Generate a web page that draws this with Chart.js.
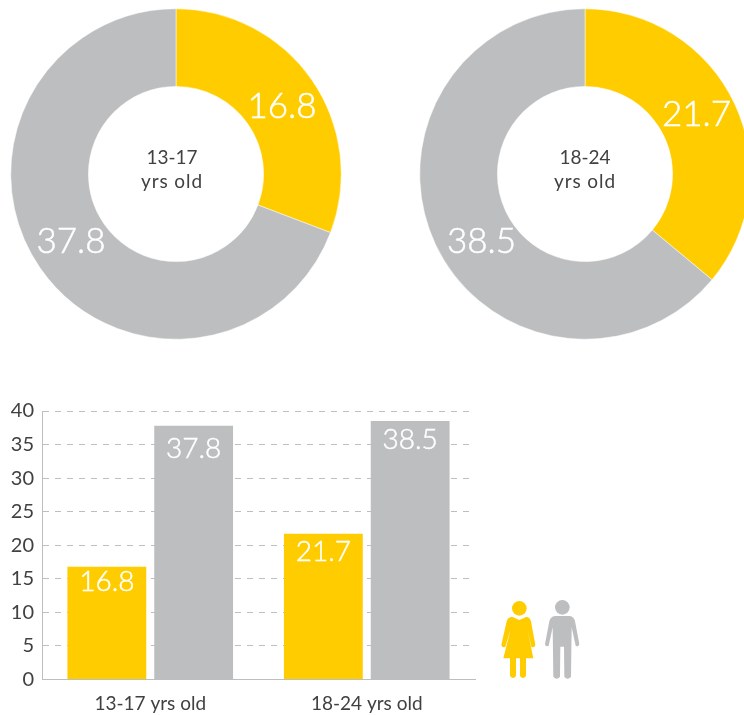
<!DOCTYPE html>
<html>
<head>
<meta charset="utf-8">
<title>Age groups</title>
<script src="https://cdn.jsdelivr.net/npm/chart.js@4"></script>
<style>
    html, body { margin: 0; padding: 0; background: #fff; }
    body { position: relative; width: 744px; height: 715px; overflow: hidden; font-family: Lato, sans-serif; }
    .box { position: absolute; }
    .donut { width: 340px; height: 340px; top: 4px; }
    .centre { position: absolute; top: 145px; width: 120px; text-align: center; color: #414042; font-size: 19px; line-height: 24px; }
    .centre span { letter-spacing: 0.9px; }
    #bars { left: 0; top: 393px; width: 490px; height: 322px; }
    #people { position: absolute; left: 490px; top: 590px; }
</style>
</head>
<body>
<div class="box donut" style="left:6px"><canvas id="donutA"></canvas></div>
<div class="box donut" style="left:415px"><canvas id="donutB"></canvas></div>
<div class="centre" style="left:112px">13-17<br><span>yrs old</span></div>
<div class="centre" style="left:525px">18-24<br><span>yrs old</span></div>
<div class="box" id="bars"><canvas id="barChart"></canvas></div>

<svg id="people" width="100" height="100" viewBox="0 0 300 300">
    <circle cx="88" cy="55" r="22" fill="#ffcc00"/>
    <path fill="#ffcc00" d="M66 80 L88 90 L110 80 Q120 82 123 94 L136 165 Q133 175 124 170 L112 118 L130 205 L108 205 L108 258 Q99 270 90 258 L90 205 L78 205 L78 258 Q69 270 60 258 L60 205 L40 205 L62 118 L46 170 Q37 175 34 165 L50 94 Q53 82 66 80 Z"/>
    <circle cx="217" cy="52" r="22" fill="#bcbec0"/>
    <path fill="#bcbec0" d="M195 78 L239 78 Q252 80 255 94 L268 162 Q266 172 257 167 L245 112 L243 260 Q233 272 223 260 L222 170 L211 170 L210 260 Q200 272 190 260 L188 112 L176 167 Q167 172 165 162 L178 94 Q181 80 195 78 Z"/>
</svg>

<script>
/************ DATA ************/
const women = [16.8, 21.7];
const men = [37.8, 38.5];
const groups = ["13-17 yrs old", "18-24 yrs old"];
const yTicks = [0, 5, 10, 15, 20, 25, 30, 35, 40];

/************ STYLE ************/
const YELLOW = "#ffcc00";
const GREY = "#bcbec0";
const TEXT = "#414042";
const FONT = "Lato, sans-serif";

Chart.defaults.font.family = FONT;
Chart.defaults.animation = false;
Chart.defaults.responsive = true;
Chart.defaults.maintainAspectRatio = false;
Chart.defaults.plugins.legend.display = false;
Chart.defaults.plugins.tooltip.enabled = false;

/************ VALUE LABELS ************/
// light weight plus a hairline stroke gets close to the source's weight
function whiteText(ctx, text, x, y) {
    ctx.fillText(text, x, y);
    ctx.strokeText(text, x, y);
}

function setupText(ctx, font) {
    ctx.fillStyle = "#fff";
    ctx.strokeStyle = "#fff";
    ctx.lineWidth = 0.5;
    ctx.font = font;
    ctx.textAlign = "center";
    ctx.textBaseline = "middle";
}

// shifts are nudges from the arc centre, the source placed these by hand
const sliceLabels = {
    id: "sliceLabels",
    afterDatasetsDraw(chart, args, opts) {
        const ctx = chart.ctx;
        ctx.save();
        setupText(ctx, "300 35px " + FONT);
        chart.getDatasetMeta(0).data.forEach((arc, i) => {
            const p = arc.getCenterPoint();
            const v = chart.data.datasets[0].data[i];
            whiteText(ctx, v.toFixed(1), p.x + opts.shifts[i][0], p.y + opts.shifts[i][1]);
        });
        ctx.restore();
    }
};

const barLabels = {
    id: "barLabels",
    afterDatasetsDraw(chart, args, opts) {
        const ctx = chart.ctx;
        ctx.save();
        setupText(ctx, "300 28px " + FONT);
        chart.data.datasets.forEach((ds, d) => {
            chart.getDatasetMeta(d).data.forEach((bar, i) => {
                whiteText(ctx, ds.data[i].toFixed(1), bar.x, bar.y + opts.drops[d][i]);
            });
        });
        ctx.restore();
    }
};

/************ DONUTS ************/
function drawDonut(id, pair, shifts) {
    new Chart(document.getElementById(id), {
        type: "doughnut",
        data: {
            labels: ["Women", "Men"],
            datasets: [{
                data: pair,
                backgroundColor: [YELLOW, GREY],
                borderColor: "#fff",
                borderWidth: 0.5
            }]
        },
        options: {
            cutout: "53%",
            layout: { padding: 4.5 },
            plugins: { sliceLabels: { shifts } }
        },
        plugins: [sliceLabels]
    });
}

drawDonut("donutA", [women[0], men[0]], [[2, 5], [-1, -4]]);
drawDonut("donutB", [women[1], men[1]], [[-3, -6], [11, 14]]);

/************ BARS ************/
new Chart(document.getElementById("barChart"), {
    type: "bar",
    data: {
        labels: groups,
        datasets: [
            { label: "Women", data: women, backgroundColor: YELLOW },
            { label: "Men", data: men, backgroundColor: GREY }
        ]
    },
    options: {
        categoryPercentage: 0.802,
        barPercentage: 0.908,
        layout: { padding: { top: 18, right: 15 } },
        scales: {
            x: {
                afterFit(scale) { scale.height = 35.5; },
                grid: { display: false },
                border: { color: "#bcbec0", width: 1 },
                ticks: { color: TEXT, font: { size: 19 }, padding: 5, maxRotation: 0 }
            },
            y: {
                min: 0,
                max: 40,
                afterFit(scale) {
                    scale.width = 42;
                    scale.paddingTop = 0;
                },
                afterBuildTicks(scale) { scale.ticks = yTicks.map(value => ({ value })); },
                grid: { color: "#bcbec0", lineWidth: 1, drawTicks: false },
                border: { color: "#bcbec0", width: 1, dash: [6, 6] },
                ticks: { color: TEXT, font: { size: 20 }, padding: 8 }
            }
        },
        plugins: { barLabels: { drops: [[15, 18], [23, 19]] } }
    },
    plugins: [barLabels]
});
</script>
</body>
</html>
